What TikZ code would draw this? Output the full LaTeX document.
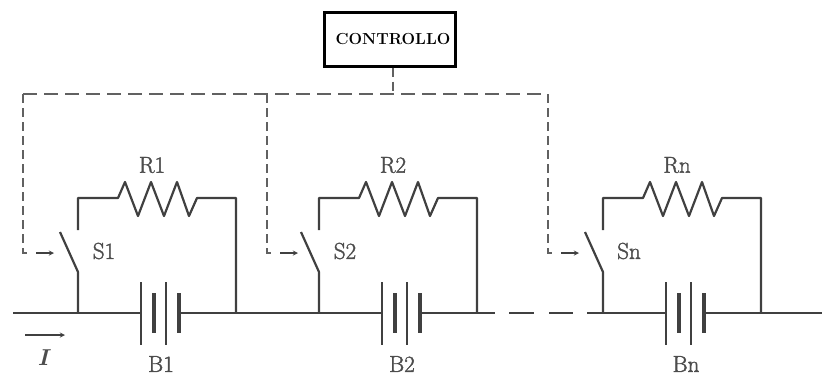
\documentclass[tikz,border=0pt]{standalone}
\usepackage{fontspec}
\usetikzlibrary{arrows.meta}
\newfontfamily\labfont{Latin Modern Roman}[FakeBold=1.6]
\definecolor{wirecol}{gray}{0.25}
\definecolor{ctrlcol}{gray}{0.38}
\tikzset{
  wire/.style={line width=2.2pt,wirecol},
  thinplate/.style={line width=1.3pt,wirecol},
  thickplate/.style={line width=3.2pt,wirecol},
  ctrlline/.style={line width=1.4pt,ctrlcol,dash pattern=on 14pt off 7pt},
  ctrlvert/.style={line width=1.4pt,ctrlcol,dash pattern=on 9pt off 5pt},
  lab/.style={inner sep=0pt,text=black!70,font=\fontsize{23}{25}\labfont},
  controlbox/.style={draw=black,line width=3pt,minimum width=131pt,minimum height=54pt,inner sep=0pt,font=\fontsize{16}{18}\selectfont\bfseries}
}
\begin{document}
\begin{tikzpicture}[>=stealth,x=1pt,y=-1pt]
  \useasboundingbox (0,0) rectangle (825,376);

  \node[controlbox] (ctrl) at (389.5,39) {\raisebox{-3pt}{\hspace{7pt}CONTROLLO}};
  \coordinate (bustap) at (393,94);
  \coordinate (bus1) at (23,94);
  \coordinate (bus2) at (267,94);
  \coordinate (busn) at (548,94);
  \draw[ctrlvert] (ctrl.south -| bustap) -- (bustap);
  \draw[ctrlline] (bus1) -- (busn);

  \foreach \n\ox\bx in {1/0/23,2/241/267,n/525/548} {
    \coordinate (swbot\n) at ({\ox+78},272);
    \coordinate (swtop\n) at ({\ox+78},230);
    \coordinate (swarm\n) at ({\ox+60},232);
    \coordinate (jl\n) at ({\ox+78},313);
    \coordinate (jr\n) at ({\ox+236},313);
    \coordinate (cl\n) at ({\ox+78},198);
    \coordinate (cr\n) at ({\ox+236},198);
    \coordinate (resl\n) at ({\ox+118},198);
    \coordinate (resr\n) at ({\ox+197},198);
    \coordinate (batl\n) at ({\ox+141},313);
    \coordinate (batr\n) at ({\ox+179},313);

    \draw[wire,line join=round] (jl\n) -- (swbot\n) -- (swarm\n);
    \draw[wire,line join=round] (swtop\n) -- (cl\n) -- (resl\n)
      -- ++(7,-16) -- ++(13,34) -- ++(13,-34) -- ++(13,34) -- ++(13,-34) -- ++(12,34) -- (resr\n)
      -- (cr\n) -- (jr\n);

    \draw[thinplate] (batl\n) ++(0,-31) -- ++(0,63);
    \draw[thickplate] (batl\n) ++(13,-20) -- ++(0,40);
    \draw[thinplate] (batl\n) ++(25,-31) -- ++(0,63);
    \draw[thickplate] (batr\n) ++(0,-20) -- ++(0,40);

    \node[lab] (Rlab\n) at ({\ox+152},165) {R\n};
    \node[lab] (Slab\n) at ({\ox+104},251) {S\n};
    \node[lab] (Blab\n) at ({\ox+161},364) {B\n};

    \coordinate (busend\n) at (\bx,253);
    \coordinate (arra\n) at ({\bx+13},253);
    \coordinate (arrb\n) at ({\bx+31},253);
    \draw[ctrlvert] (bus\n) -- (busend\n) -- ++(5,0);
    \draw[thinplate,->] (arra\n) -- (arrb\n);
  }

  \coordinate (linein) at (13,313);
  \coordinate (gapa) at (495,313);
  \coordinate (gapb) at (509,313);
  \coordinate (gapc) at (573,313);
  \coordinate (gapd) at (587,313);
  \coordinate (lineout) at (822,313);
  \draw[wire] (linein) -- (batl1);
  \draw[wire] (batr1) -- (batl2);
  \draw[wire] (batr2) -- (gapa);
  \draw[wire,dash pattern=on 25pt off 15pt] (gapb) -- (gapc);
  \draw[wire] (gapd) -- (batln);
  \draw[wire] (batrn) -- (lineout);

  \coordinate (curra) at (25,335);
  \coordinate (currb) at (65,335);
  \draw[thinplate,->] (curra) -- (currb);
  \node[lab,font=\fontsize{23}{25}\selectfont\bfseries\itshape] (curr) at (43,358) {I};
\end{tikzpicture}
\end{document}
